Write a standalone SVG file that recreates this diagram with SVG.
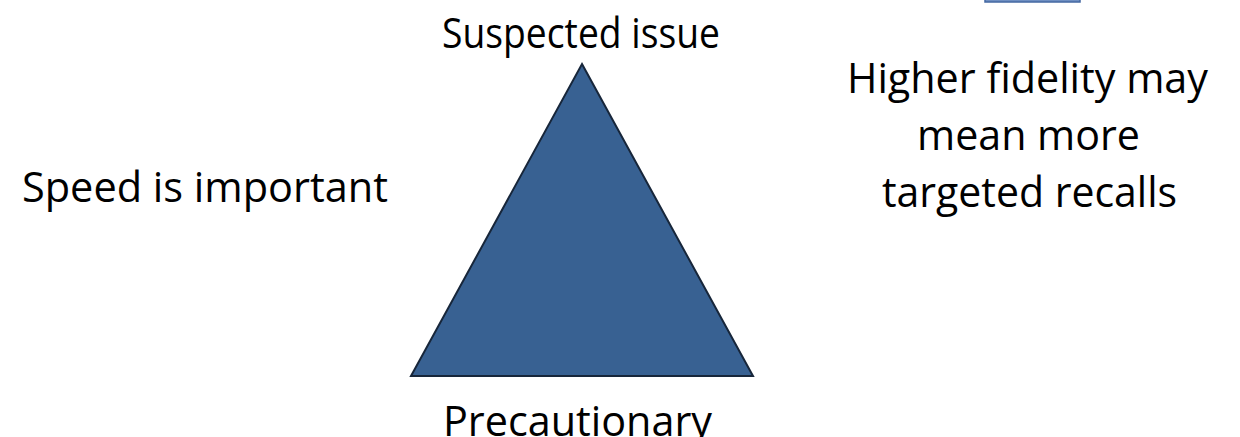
<svg xmlns="http://www.w3.org/2000/svg" width="1240" height="437" viewBox="0 0 1240 437">
  <style>
    .lbl { font-family: "Open Sans", "Noto Sans", "Liberation Sans", sans-serif; font-size: 42px; fill: #000000; }
    .tri { fill: #386192; stroke: #17263a; stroke-width: 2; stroke-linejoin: miter; }
    .chip { fill: #6f8fc2; stroke: #4468a2; stroke-width: 1.5; }
  </style>
  <rect width="1240" height="437" fill="#ffffff"/>
  <g id="corner-box">
    <rect class="chip" x="985" y="-20" width="95" height="22"/>
  </g>
  <g id="triangle">
    <polygon class="tri" points="582,64 753,376 411,376"/>
  </g>
  <g id="label-top">
    <text class="lbl" x="442" y="48" textLength="278" lengthAdjust="spacingAndGlyphs">Suspected issue</text>
  </g>
  <g id="label-left">
    <text class="lbl" x="22" y="201.7" textLength="366" lengthAdjust="spacingAndGlyphs">Speed is important</text>
  </g>
  <g id="label-right">
    <text class="lbl" x="847" y="93" textLength="361" lengthAdjust="spacingAndGlyphs">Higher fidelity may</text>
    <text class="lbl" x="917" y="150" textLength="223" lengthAdjust="spacingAndGlyphs">mean more</text>
    <text class="lbl" x="882" y="207" textLength="295" lengthAdjust="spacingAndGlyphs">targeted recalls</text>
  </g>
  <g id="label-bottom">
    <text class="lbl" x="443" y="436" textLength="269" lengthAdjust="spacingAndGlyphs">Precautionary</text>
  </g>
</svg>
